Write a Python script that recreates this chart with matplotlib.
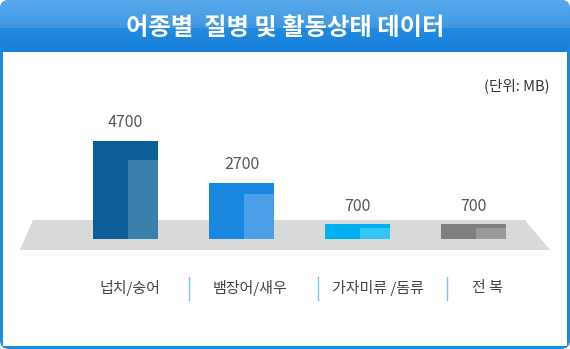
import numpy as np
import matplotlib.pyplot as plt
from matplotlib.patches import FancyBboxPatch, Rectangle, Polygon

plt.rcParams['font.family'] = ['Noto Sans CJK KR', 'DejaVu Sans']

# 데이터
categories = ['넙치/숭어', '뱀장어/새우', '가자미류 /돔류', '전 복']
values = [4700, 2700, 700, 700]
inner_values = [3800, 2150, 550, 550]
outer_colors = ['#0b5e98', '#1a88e0', '#00b0f0', '#7f7f7f']
inner_colors = ['#3a80ad', '#4a9fe8', '#33c3f5', '#999999']

W, H = 570, 349
fig = plt.figure(figsize=(W / 100, H / 100), dpi=100)

# 배경 (픽셀 좌표)
bg = fig.add_axes([0, 0, 1, 1])
bg.set_xlim(0, W)
bg.set_ylim(H, 0)
bg.axis('off')

frame = FancyBboxPatch((0, 0), W, H, boxstyle='round,pad=0,rounding_size=9',
                       fc='#1a8ae0', ec='none')
bg.add_patch(frame)
bg.add_patch(Rectangle((2.5, 52), W - 5.5, H - 55, fc='white', ec='none'))

# 헤더 그라데이션
header = FancyBboxPatch((0, 0), W, 52, boxstyle='round,pad=0,rounding_size=9',
                        fc='none', ec='none')
bg.add_patch(header)
ys = np.linspace(0, 1, 52)
top = np.array([[0x58, 0xa9, 0xeb], [0x3f, 0x97, 0xe3]]) / 255
bot = np.array([[0x24, 0x8a, 0xe1], [0x17, 0x80, 0xda]]) / 255
grad = np.zeros((52, 1, 3))
for i, y in enumerate(ys):
    if y < 0.53:
        t = y / 0.53
        grad[i, 0] = top[0] * (1 - t) + top[1] * t
    else:
        t = (y - 0.53) / 0.47
        grad[i, 0] = bot[0] * (1 - t) + bot[1] * t
im = bg.imshow(grad, extent=(0, W, 52, 0), aspect='auto', zorder=2)
im.set_clip_path(header)
bg.set_xlim(0, W)
bg.set_ylim(H, 0)

bg.text(W / 2, 28, '어종별  질병 및 활동상태 데이터', color='white', fontsize=17.5,
        fontweight='bold', ha='center', va='center', zorder=3)
bg.text(550, 86, '(단위: MB)', color='#333333', fontsize=10.5, ha='right', va='center')

# 바닥판
bg.add_patch(Polygon([(33, 220), (525, 220), (550, 250), (20, 250)],
                     closed=True, fc='#d9d9d9', ec='none'))

# 구분선과 항목 이름
for sx in [189, 318, 447]:
    bg.plot([sx, sx], [277, 300], color='#7cc4ee', lw=1)
label_x = [130, 250, 378, 487]
for lx, name in zip(label_x, categories):
    bg.text(lx, 288, name, color='#444444', fontsize=10.8, ha='center', va='center')

# 막대 그래프
ax = fig.add_axes([67.5 / W, 110 / H, 464 / W, 125 / H])
ax.patch.set_alpha(0)
ax.set_xlim(-0.5, 3.5)
ax.set_ylim(0, 6000)
ax.axis('off')

x = np.arange(len(values))
bw = 0.56
ax.bar(x, values, width=bw, color=outer_colors)
ax.bar(x + bw / 2, inner_values, width=-0.26, align='edge', color=inner_colors)
for xi, v in zip(x, values):
    ax.annotate(str(v), (xi, v), xytext=(0, 7), textcoords='offset points',
                ha='center', va='bottom', fontsize=11.5, color='#555555')

fig.savefig('out.png', dpi=100)
